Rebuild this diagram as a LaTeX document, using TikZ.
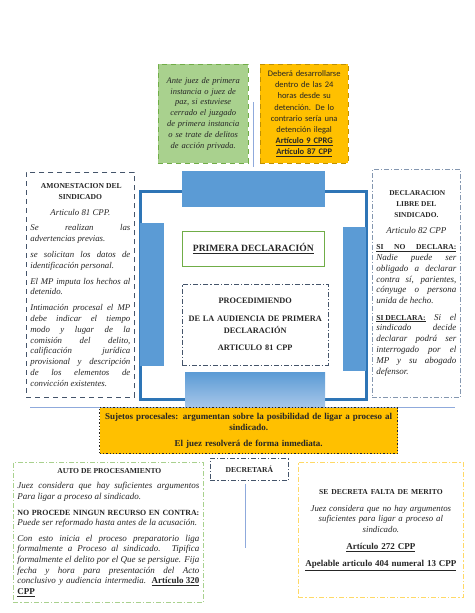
\documentclass[tikz,border=0pt]{standalone}
\usepackage{fontspec}
\setmainfont{Liberation Serif}
\newfontfamily\calibri{Carlito}
\definecolor{barblue}{HTML}{5B9BD5}
\definecolor{framblue}{HTML}{2E75B6}
\definecolor{lightbar}{HTML}{A9C8EA}
\definecolor{leafgreen}{HTML}{A9D18E}
\definecolor{darkgreen}{HTML}{70AD47}
\definecolor{gold}{HTML}{FFC000}
\definecolor{darkgold}{HTML}{BF9000}
\definecolor{slate}{HTML}{44546A}
\definecolor{greyblue}{HTML}{8497B0}
\definecolor{paleyellow}{HTML}{FFD966}
\definecolor{linkblue}{HTML}{8FAADC}
\definecolor{ink}{HTML}{262626}
\newcommand\capsize[1]{\fontsize{#1}{10.8}\selectfont}
\newcommand\nohyph{\hyphenpenalty=10000\relax\exhyphenpenalty=10000\relax}
\tikzset{
  box/.style={anchor=north west, inner sep=4pt, text=ink,
    font=\fontsize{8.8}{10.8}\selectfont\setlength{\parskip}{5pt}\nohyph},
  bar/.style={anchor=north west, fill=barblue, draw=barblue, inner sep=0pt},
  longdash/.style={dash pattern=on 5pt off 4pt},
  dashdot/.style={dash pattern=on 5pt off 2pt on 1.2pt off 2pt},
  link/.style={draw=linkblue, line width=0.9pt}
}
\begin{document}
\begin{tikzpicture}[x=1pt,y=-1pt]
    \useasboundingbox (0,0) rectangle (474,613);
    %
    % top notes
    \node[box, fill=leafgreen, draw=darkgreen, longdash, minimum width=88pt, minimum height=99pt,
      text width=82pt, align=center, font=\fontsize{8.5}{10.8}\selectfont\itshape] (ante) at (158,64)
      {Ante juez de primera\\ instancia o juez de\\ paz, si estuviese\\ cerrado el juzgado\\
      de primera instancia\\ o se trate de delitos\\ de acción privada.};
    \node[box, fill=gold, draw=darkgold, longdash, minimum width=87pt, minimum height=99pt,
      text width=80pt, align=center, font=\calibri\fontsize{8.5}{11.1}\selectfont] (plazo) at (260,64)
      {Deberá desarrollarse\\ dentro de las 24\\ horas desde su\\ detención. De lo\\ contrario sería una\\
      detención ilegal\\ \underline{\textbf{Artículo 9 CPRG}}\\ \underline{\textbf{Artículo 87 CPP}}};
    \coordinate (stemtop) at (253,102);
    %
    % central frame
    \node[anchor=north west, draw=framblue, line width=2.5pt, minimum width=226pt, minimum height=208pt] (frame) at (139,190) {};
    \node[bar, minimum width=142pt, minimum height=35pt] (topbar) at (182,171) {};
    \draw[link, shorten >=4pt] (stemtop) -- (stemtop |- topbar.north);
    \node[bar, minimum width=23pt, minimum height=142pt] (leftbar) at (140,223) {};
    \node[bar, minimum width=22pt, minimum height=143pt] (rightbar) at (343,227) {};
    \node[anchor=north west, top color=barblue, bottom color=lightbar, inner sep=0pt,
      minimum width=140pt, minimum height=36pt] (botbar) at (185,372) {};
    \node[box, draw=darkgreen, line width=0.6pt, minimum width=142pt, minimum height=35pt,
      font=\bfseries\fontsize{9.6}{12}\selectfont] (primera) at (182,231) {\underline{PRIMERA DECLARACIÓN}};
    \node[box, draw=slate, dashdot, minimum width=146pt, minimum height=81pt, text width=138pt,
      align=center, font=\bfseries\fontsize{8.3}{12}\selectfont] (proc) at (182,284)
      {PROCEDIMIENDO\\[6pt] DE LA AUDIENCIA DE PRIMERA\\ DECLARACIÓN\\[5pt] ARTICULO 81 CPP};
    %
    % side boxes
    \node[box, draw=slate, longdash, line width=0.7pt, minimum width=108pt, minimum height=225pt,
      text width=100pt, align=justify] (amonesta) at (26,172)
      {{\centering\bfseries\capsize{7.6} AMONESTACION DEL\\ SINDICADO\par}
      {\centering\itshape Articulo 81 CPP.\par}
      \itshape Se realizan las\linebreak advertencias previas.\par
      se solicitan los datos de\linebreak identificación personal.\par
      El MP imputa los hechos al\linebreak detenido.\par
      Intimación procesal el MP\linebreak debe indicar el tiempo\linebreak modo y lugar de la\linebreak
      comisión del delito,\linebreak calificación jurídica\linebreak provisional y descripción\linebreak
      de los elementos de\linebreak convicción existentes.};
    \node[box, draw=greyblue, dashdot, line width=0.7pt, minimum width=87pt, minimum height=228pt,
      text width=80pt, align=justify, font=\fontsize{9}{10.8}\selectfont\setlength{\parskip}{5.5pt}\nohyph] (libre) at (372,169)
      {{\centering\bfseries\capsize{7.4} DECLARACION\\ LIBRE DEL\\ SINDICADO.\par}
      {\centering\itshape Articulo 82 CPP\par}
      \underline{\makebox[\linewidth][s]{\bfseries\capsize{7.6}SI NO DECLARA:}}
      \textit{Nadie puede ser\linebreak obligado a declarar\linebreak contra sí, parientes,\linebreak
      cónyuge o persona\linebreak unida de hecho.}\par
      \underline{\textbf{\capsize{7.6}SI DECLARA:}} \textit{Si el\linebreak sindicado decide\linebreak declarar podrá ser\linebreak
      interrogado por el\linebreak MP y su abogado\linebreak defensor.}};
    %
    % hearing result
    \coordinate (rule west) at (30,407);
    \coordinate (rule east) at (455,407);
    \draw[link] (rule west) -- (rule east);
    \node[box, fill=gold, draw=ink, dotted, line width=1.3pt, minimum width=297pt, minimum height=46pt,
      text width=290pt, align=center, font=\bfseries\fontsize{9}{11}\selectfont] (sujetos) at (99,407)
      {Sujetos procesales: argumentan sobre la posibilidad de ligar a proceso al\\ sindicado.\\[5pt]
      El juez resolverá de forma inmediata.};
    %
    % decision
    \node[box, draw=slate, dashdot, line width=0.7pt, minimum width=78pt, minimum height=22pt,
      font=\bfseries\capsize{7.6}] (decreta) at (210,458) {DECRETARÁ};
    \coordinate (stembot) at (245,548);
    \draw[link] (decreta.south -| stembot) ++(0,3) -- (stembot);
    \node[box, draw=leafgreen, dashdot, line width=0.8pt, minimum width=190pt, minimum height=140pt,
      text width=182pt, align=justify, font=\fontsize{9}{10.6}\selectfont\setlength{\parskip}{5pt}\nohyph] (auto) at (13,462)
      {{\centering\bfseries\capsize{7.6} AUTO DE PROCESAMIENTO\par}
      \textit{Juez considera que hay suficientes argumentos\linebreak Para ligar a proceso al sindicado.}\par
      \textbf{\capsize{7.9}NO PROCEDE NINGUN RECURSO EN CONTRA:}\linebreak
      \textit{Puede ser reformado hasta antes de la acusación.}\par
      \textit{Con esto inicia el proceso preparatorio liga\linebreak formalmente a Proceso al sindicado. Tipifica\linebreak
      formalmente el delito por el Que se persigue. Fija\linebreak fecha y hora para presentación del Acto\linebreak
      conclusivo y audiencia intermedia.} \underline{\textbf{Artículo 320}}\linebreak \underline{\textbf{CPP}}};
    \node[box, draw=paleyellow, dashdot, line width=0.8pt, minimum width=165pt, minimum height=135pt,
      text width=155pt, align=center, font=\fontsize{8.8}{10.2}\selectfont\setlength{\parskip}{7pt}] (falta) at (298,462)
      {\textbf{\capsize{7.6}SE DECRETA FALTA DE MERITO}\par
      \textit{Juez considera que no hay argumentos\\ suficientes para ligar a proceso al\\ sindicado.}\par
      \textbf{\fontsize{9}{10.2}\selectfont\underline{Artículo 272 CPP}}\par
      \textbf{\fontsize{9}{10.2}\selectfont\underline{Apelable articulo 404 numeral 13 CPP}}};
\end{tikzpicture}
\end{document}
